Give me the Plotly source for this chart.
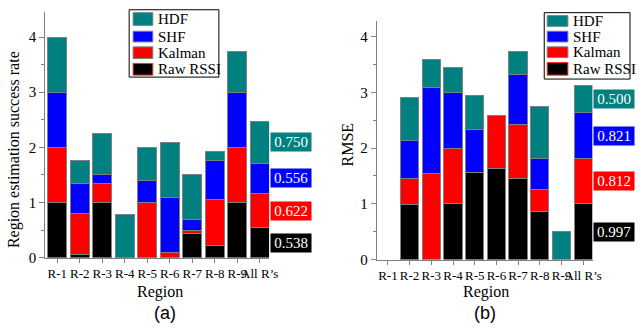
import plotly.graph_objects as go

regions = ["R-1", "R-2", "R-3", "R-4", "R-5", "R-6", "R-7", "R-8", "R-9", "All R\u2019s"]
series_names = ["Raw RSSI", "Kalman", "SHF", "HDF"]
colors = ["#000000", "#FF0000", "#0000FF", "#008080"]

# (a) Region estimation success rate (stacked segments)
a_raw = [1.00, 0.05, 1.00, 0.00, 0.00, 0.00, 0.43, 0.22, 1.00, 0.538]
a_kalman = [1.00, 0.75, 0.35, 0.00, 1.00, 0.09, 0.07, 0.84, 1.00, 0.622]
a_shf = [1.00, 0.55, 0.15, 0.00, 0.40, 1.00, 0.19, 0.70, 1.00, 0.556]
a_hdf = [1.00, 0.41, 0.75, 0.78, 0.60, 1.00, 0.81, 0.16, 0.74, 0.750]

# (b) RMSE (stacked segments)
b_raw = [0.00, 0.98, 0.00, 1.00, 1.56, 1.63, 1.46, 0.87, 0.00, 0.997]
b_kalman = [0.00, 0.47, 1.54, 0.99, 0.00, 0.95, 0.96, 0.39, 0.00, 0.812]
b_shf = [0.00, 0.68, 1.54, 1.01, 0.78, 0.00, 0.90, 0.56, 0.00, 0.821]
b_hdf = [0.00, 0.77, 0.51, 0.45, 0.60, 0.00, 0.41, 0.92, 0.50, 0.500]

SERIF = "Liberation Serif, Times New Roman, DejaVu Serif, serif"
SANS = "Liberation Sans, Arial, sans-serif"
GRAY = "#808080"
BAR_W = 0.84
W, H = 640, 332

fig = go.Figure()

def px(x):
    return x / W

def py(y):
    return (H - y) / H

def add_stack(series, xaxis, yaxis):
    for name, vals, col in zip(series_names, series, colors):
        fig.add_trace(go.Bar(
            x=regions, y=[v if v != 0 else None for v in vals], name=name,
            marker=dict(color=col, line=dict(color=GRAY, width=1)),
            width=BAR_W, xaxis=xaxis, yaxis=yaxis, showlegend=False,
            hoverinfo="skip"))

add_stack([a_raw, a_kalman, a_shf, a_hdf], "x", "y")
add_stack([b_raw, b_kalman, b_shf, b_hdf], "x2", "y2")

def add_value_labels(series, xref, yref):
    idx = len(regions) - 1
    base = 0.0
    for vals, col in zip(series, colors):
        v = vals[idx]
        fig.add_annotation(
            x=idx + BAR_W / 2, y=base + v / 2, xref=xref, yref=yref,
            xanchor="left", yanchor="middle", text="%.3f" % v, showarrow=False,
            font=dict(family=SERIF, size=15, color="white"),
            bgcolor=col, width=40, height=18, borderpad=0, xshift=1)
        base += v

add_value_labels([a_raw, a_kalman, a_shf, a_hdf], "x", "y")
add_value_labels([b_raw, b_kalman, b_shf, b_hdf], "x2", "y2")

def add_box_legend(box, sw_x, sw_w, text_x, rows):
    # box: (x0, y0, x1, y1) in pixels; rows: swatch pixel rows (top to bottom)
    x0, y0, x1, y1 = box
    fig.add_shape(type="rect", xref="paper", yref="paper",
                  x0=px(x0), x1=px(x1), y0=py(y1), y1=py(y0),
                  line=dict(color="black", width=1), fillcolor="white", layer="above")
    for (r0, r1), name, col in zip(rows, series_names[::-1], colors[::-1]):
        fig.add_shape(type="rect", xref="paper", yref="paper",
                      x0=px(sw_x), x1=px(sw_x + sw_w), y0=py(r1), y1=py(r0),
                      line=dict(color="#FF3030" if name == "Raw RSSI" else GRAY, width=1),
                      fillcolor=col, layer="above")
        fig.add_annotation(x=px(text_x), y=py((r0 + r1) / 2), xref="paper", yref="paper",
                           xanchor="left", yanchor="middle", text=name, showarrow=False,
                           font=dict(family=SERIF, size=15, color="black"))

add_box_legend((131, 10, 222, 79), 135, 20, 158, [(13, 26), (32, 43), (48, 60), (65, 77)])
add_box_legend((552, 13, 639, 81), 555, 21, 579, [(16, 27), (32, 43), (48, 59), (64, 77)])

xcommon = dict(type="category", categoryorder="array", categoryarray=regions,
               showline=True, linecolor=GRAY, linewidth=1, ticks="outside",
               ticklen=4, tickcolor=GRAY, showgrid=False, zeroline=False,
               tickangle=0,
               tickfont=dict(family=SERIF, size=13, color="black"))
ycommon = dict(showline=True, linecolor=GRAY, linewidth=1, ticks="outside",
               ticklen=5, tickcolor=GRAY, showgrid=False, zeroline=False,
               dtick=1, tickfont=dict(family=SERIF, size=15, color="black"),
               minor=dict(dtick=0.5, ticks="outside", ticklen=3, tickcolor=GRAY))

fig.update_layout(
    width=W, height=H, margin=dict(l=0, r=0, t=0, b=0),
    paper_bgcolor="white", plot_bgcolor="white", barmode="stack",
    showlegend=False,
    xaxis=dict(domain=[px(46), px(273)], range=[-0.53, 9.42], anchor="y", **xcommon),
    yaxis=dict(domain=[py(264), py(12)], range=[0, 4.46], anchor="x", **ycommon),
    xaxis2=dict(domain=[px(382), px(601)], range=[-0.52, 9.43], anchor="y2", **xcommon),
    yaxis2=dict(domain=[py(266), py(22)], range=[0, 4.27], anchor="x2", **ycommon),
)

def add_text(x, y, text, family, size, angle=0):
    fig.add_annotation(x=px(x), y=py(y), xref="paper", yref="paper",
                       xanchor="center", yanchor="middle", text=text, textangle=angle,
                       showarrow=False, font=dict(family=family, size=size, color="black"))

# Axis titles and panel labels
add_text(15, 153, "Region estimation success rate", SERIF, 16, -90)
add_text(352, 148, "RMSE", SERIF, 16, -90)
add_text(162, 299, "Region", SERIF, 16)
add_text(493, 299, "Region", SERIF, 16)
add_text(167, 321, "(a)", SANS, 18)
add_text(492, 321, "(b)", SANS, 18)

fig.write_html("out.html")
